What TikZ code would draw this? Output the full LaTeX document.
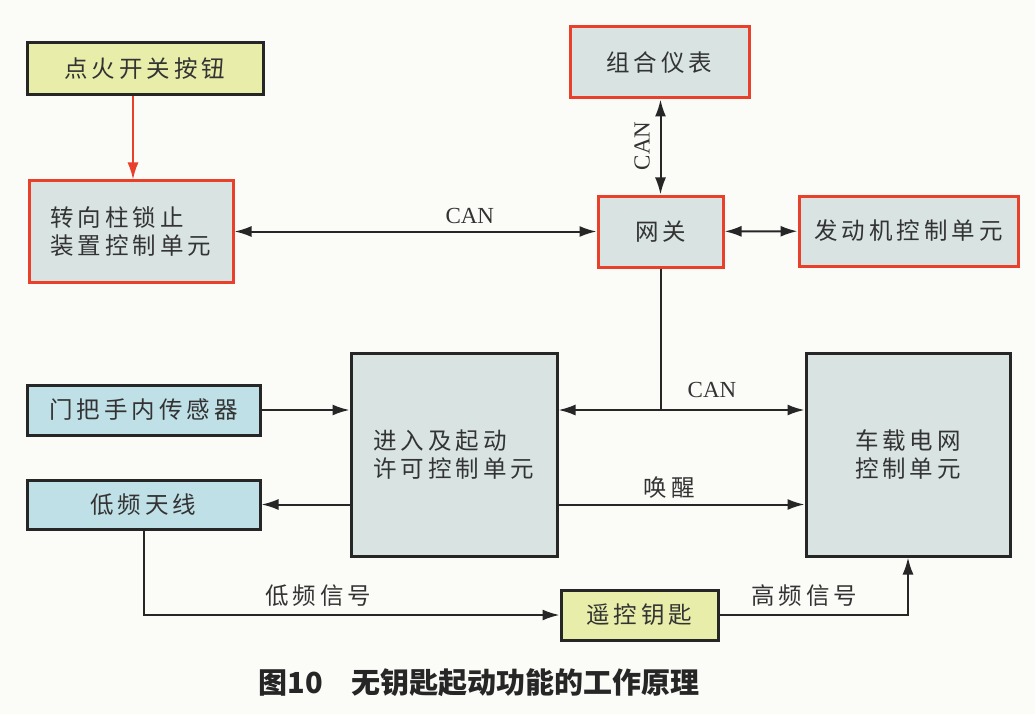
\documentclass[tikz,border=0pt]{standalone}
\usepackage{fontspec}
\usepackage{tikz}
\usetikzlibrary{arrows.meta,positioning}
\newfontfamily\cjk[LetterSpace=17]{Noto Sans CJK SC}
\newfontfamily\cjkcap{Noto Sans CJK SC}
\setmainfont{Liberation Serif}
\definecolor{boxgray}{HTML}{D8E3E2}
\definecolor{boxblue}{HTML}{BFE0E6}
\definecolor{boxyellow}{HTML}{E8EEAA}
\definecolor{redline}{HTML}{E8402A}
\definecolor{paper}{HTML}{FBFBF8}

\begin{document}
\begin{tikzpicture}[x=1pt, y=-1pt, >={Latex[length=17pt,width=11pt]}]
    \tikzstyle{every node} = [font=\cjk\fontsize{23.5}{28}\selectfont, text=black!80]
    \tikzstyle{unit} = [align=left, draw, line width=3pt, inner sep=0pt]
    \tikzstyle{redbox} = [unit, draw=redline, fill=boxgray]
    \tikzstyle{graybox} = [unit, draw=black!85, fill=boxgray]
    \tikzstyle{bluebox} = [unit, draw=black!85, fill=boxblue]
    \tikzstyle{yellowbox} = [unit, draw=black!85, fill=boxyellow]
    \tikzstyle{link} = [line width=2pt, black!85]
    \tikzstyle{bus} = [font=\fontsize{23}{27}\selectfont, text=black!80]

    \fill[paper] (0,0) rectangle (1035,714);

    \node (button) [yellowbox, minimum width=236, minimum height=52] at (145,69) {点火开关按钮};
    \node (lock) [redbox, minimum width=204, minimum height=101] at (131,231.5) {转向柱锁止\\装置控制单元};
    \node (cluster) [redbox, minimum width=179, minimum height=71] at (659.5,62.5) {组合仪表};
    \node (gateway) [redbox, minimum width=125, minimum height=71] at (660.5,231.5) {网关};
    \node (engine) [redbox, minimum width=219, minimum height=70] at (908.5,231) {发动机控制单元};
    \node (door) [bluebox, minimum width=233, minimum height=50] at (143.5,410) {门把手内传感器};
    \node (antenna) [bluebox, minimum width=233, minimum height=49] at (143.5,504.5) {低频天线};
    \node (kessy) [graybox, minimum width=206, minimum height=203] at (454,454.5) {进入及起动\\许可控制单元};
    \node (bcm) [graybox, minimum width=204, minimum height=203] at (908,454.5) {车载电网\\控制单元};
    \node (key) [yellowbox, minimum width=157, minimum height=50] at (639.5,615) {遥控钥匙};

    \coordinate (tee) at (gateway.south |- door);
    \coordinate (lfcorner) at (antenna.south |- key);
    \coordinate (hfcorner) at (bcm.south |- key);

    \draw [->, link, redline] (button.south -| 133,0) -- (lock.north -| 133,0);
    \draw [<->, link] (lock) -- node[bus, above=3pt, pos=0.65] {CAN} (gateway);
    \draw [<->, link] (gateway) -- (engine);
    \draw [<->, link] (cluster.south -| gateway) -- (gateway);
    \node [bus, rotate=90] at (642,146) {CAN};
    \draw [link] (gateway) -- (tee);
    \draw [<->, link] (kessy.east |- door) -- (bcm.west |- door);
    \node [bus] at (712,390) {CAN};
    \draw [->, link] (door) -- (kessy.west |- door);
    \draw [->, link] (kessy.west |- antenna) -- (antenna);
    \draw [->, link] (kessy.east |- antenna) -- node[above=2pt, pos=0.45] {唤醒} (bcm.west |- antenna);
    \draw [->, link] (antenna) -- (lfcorner) -- node[above=4pt, pos=0.42] {低频信号} (key);
    \draw [->, link] (key) -- node[above=4pt, pos=0.45] {高频信号} (hfcorner) -- (bcm);

    \node (caption) [font=\cjkcap\bfseries\fontsize{29}{34}\selectfont, text=black!85] at (479,683) {图10\quad 无钥匙起动功能的工作原理};
\end{tikzpicture}
\end{document}
